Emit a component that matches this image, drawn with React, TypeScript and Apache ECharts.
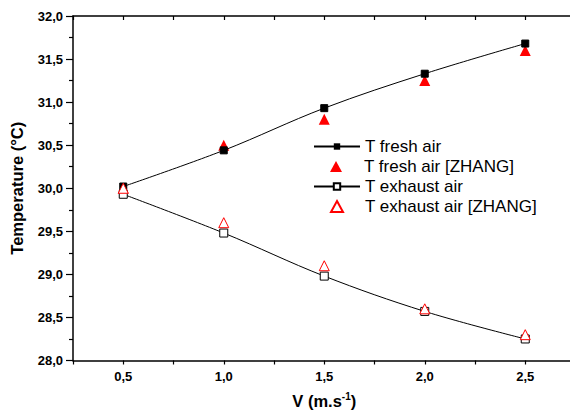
import React, { useEffect, useRef } from "react";
import * as echarts from "echarts";

const velocities = [0.5, 1.0, 1.5, 2.0, 2.5];
const freshAir = [30.02, 30.44, 30.93, 31.33, 31.68];
const freshAirZhang = [30.0, 30.5, 30.8, 31.25, 31.6];
const exhaustAir = [29.93, 29.48, 28.98, 28.57, 28.25];
const exhaustAirZhang = [30.0, 29.6, 29.1, 28.6, 28.3];
const seriesNames = ["T fresh air", "T fresh air [ZHANG]", "T exhaust air", "T exhaust air [ZHANG]"];

const FONT = "'Liberation Sans', Arial, sans-serif";

const pair = (ys: number[]) => velocities.map((v, i) => [v, ys[i]]);
const comma = (v: number) => v.toFixed(1).replace(".", ",");
const isHalf = (v: number) => Math.abs(v * 2 - Math.round(v * 2)) < 1e-6;

const legendText = { fontSize: 17, color: "#000", fontFamily: FONT };
const lineLegend = (name: string, top: number) => ({
  orient: "vertical",
  left: 308,
  top,
  itemWidth: 46,
  itemHeight: 8,
  textStyle: legendText,
  data: [name],
});
const markLegend = (name: string, top: number) => ({
  orient: "vertical",
  left: 325,
  top,
  itemWidth: 12,
  itemHeight: 11,
  textStyle: { ...legendText, padding: [0, 0, 0, 17] },
  data: [name],
});

export default function App() {
  const ref = useRef<HTMLDivElement>(null);
  useEffect(() => {
    if (!ref.current) return;
    const chart = echarts.init(ref.current, null, { renderer: "svg" });
    chart.setOption({
      animation: false,
      backgroundColor: "#ffffff",
      textStyle: { fontFamily: FONT },
      grid: { left: 73, top: 16, width: 502.5, height: 344.5, containLabel: false, outerBoundsMode: "none" },
      legend: [
        lineLegend(seriesNames[0], 133),
        markLegend(seriesNames[1], 153),
        lineLegend(seriesNames[2], 173),
        markLegend(seriesNames[3], 193),
      ],
      xAxis: [
        {
          type: "value",
          min: 0.25,
          max: 2.75,
          interval: 0.25,
          position: "bottom",
          name: "V (m.s{sup|-1})",
          nameLocation: "middle",
          nameGap: 31,
          nameTextStyle: {
            fontSize: 16.5,
            fontWeight: "bold",
            color: "#000",
            fontFamily: FONT,
            rich: { sup: { fontSize: 10, fontWeight: "bold", verticalAlign: "top", padding: [0, 0, 9, 0] } },
          },
          axisLine: { show: true, onZero: false, lineStyle: { color: "#000", width: 1.5 } },
          axisTick: { show: true, inside: false, length: 4, lineStyle: { color: "#000", width: 1.2 } },
          axisLabel: {
            show: true,
            fontSize: 13,
            fontWeight: "bold",
            color: "#000",
            margin: 9,
            fontFamily: FONT,
            formatter: (v: number) => (isHalf(v) && v > 0.3 && v < 2.7 ? comma(v) : ""),
          },
          splitLine: { show: false },
        },
        {
          type: "value",
          min: 0.25,
          max: 2.75,
          interval: 0.25,
          position: "top",
          axisLine: { show: true, onZero: false, lineStyle: { color: "#000", width: 1.5 } },
          axisTick: { show: true, inside: true, length: 4, lineStyle: { color: "#000", width: 1.2 } },
          axisLabel: { show: false },
          splitLine: { show: false },
        },
      ],
      yAxis: {
        type: "value",
        min: 28,
        max: 32,
        interval: 0.5,
        name: "Temperature (°C)",
        nameLocation: "middle",
        nameGap: 48,
        nameTextStyle: { fontSize: 16.5, fontWeight: "bold", color: "#000", fontFamily: FONT },
        axisLine: { show: true, onZero: false, lineStyle: { color: "#000", width: 1.5 } },
        axisTick: { show: true, inside: false, length: 7, lineStyle: { color: "#000", width: 1.2 } },
        minorTick: { show: true, splitNumber: 2, length: 4, lineStyle: { color: "#000", width: 1.2 } },
        axisLabel: {
          fontSize: 13,
          fontWeight: "bold",
          color: "#000",
          margin: 10,
          fontFamily: FONT,
          formatter: (v: number) => comma(v),
        },
        splitLine: { show: false },
      },
      series: [
        {
          name: seriesNames[0],
          type: "line",
          smooth: 0.35,
          data: pair(freshAir),
          symbol: "rect",
          symbolSize: 7,
          lineStyle: { color: "#000", width: 1 },
          itemStyle: { color: "#000", borderColor: "#000" },
          z: 3,
        },
        {
          name: seriesNames[1],
          type: "scatter",
          data: pair(freshAirZhang),
          symbol: "triangle",
          symbolSize: 11,
          itemStyle: { color: "#ff0000", opacity: 1 },
          z: 2,
        },
        {
          name: seriesNames[2],
          type: "line",
          smooth: 0.35,
          data: pair(exhaustAir),
          symbol: "rect",
          symbolSize: 8,
          lineStyle: { color: "#000", width: 1 },
          itemStyle: { color: "#ffffff", borderColor: "#000", borderWidth: 1 },
          z: 3,
        },
        {
          name: seriesNames[3],
          type: "scatter",
          data: pair(exhaustAirZhang),
          symbol: "triangle",
          symbolSize: 10,
          itemStyle: { color: "#ffffff", borderColor: "#ff0000", borderWidth: 1, opacity: 1 },
          z: 4,
        },
      ],
    });
    return () => chart.dispose();
  }, []);
  return (
    <div
      ref={ref}
      style={{ position: "fixed", left: 0, top: 0, width: 570, height: 414, overflow: "hidden" }}
    />
  );
}
